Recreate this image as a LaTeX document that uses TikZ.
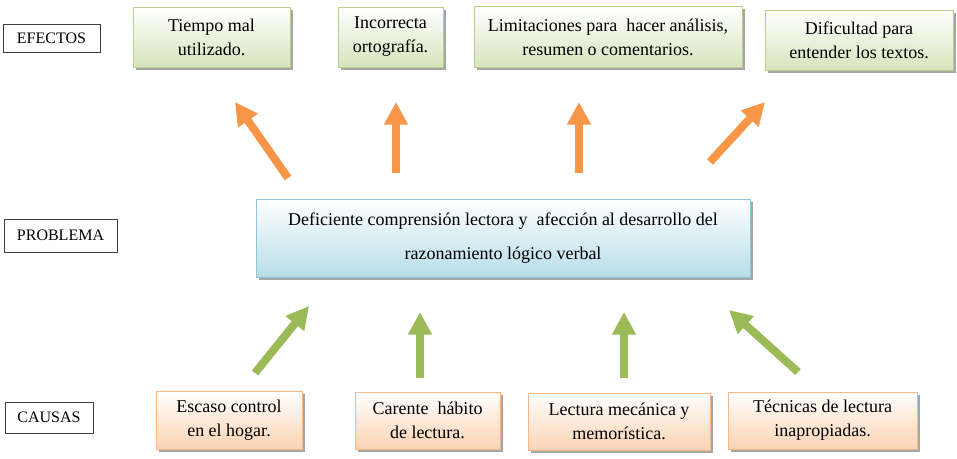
\documentclass[tikz,border=0pt]{standalone}
\usepackage{fontspec}
\setmainfont{Liberation Serif}
\usetikzlibrary{arrows.meta,shadows}

\definecolor{naranja}{HTML}{F79646}
\definecolor{verde}{HTML}{9BBB59}
\definecolor{verdeclaro}{HTML}{D7E4BD}
\definecolor{verdeborde}{HTML}{B9CF8C}
\definecolor{azulclaro}{HTML}{B7DDE8}
\definecolor{azulborde}{HTML}{8CC6D8}
\definecolor{melon}{HTML}{FBD4B4}
\definecolor{melonborde}{HTML}{F8B888}

\begin{document}
\begin{tikzpicture}[
            x=0.75pt, y=-0.75pt,
            nivel/.style={draw=black!75, fill=white, inner sep=0pt, font=\fontsize{12}{14}\selectfont},
            caja/.style={draw, align=center, inner sep=0pt, font=\fontsize{13.5}{18}\selectfont,
                drop shadow={shadow xshift=2pt, shadow yshift=-2pt, fill=black, opacity=0.35}},
            efecto/.style={caja, draw=verdeborde, top color=white, bottom color=verdeclaro},
            causa/.style={caja, draw=melonborde, top color=white, bottom color=melon},
            problema/.style={caja, draw=azulborde, top color=white, bottom color=azulclaro,
                font=\fontsize{13.5}{25}\selectfont},
            flecha/.style={line width=6pt, -{Triangle[length=17pt, width=17pt]}}
            ]
            \useasboundingbox (0,0) rectangle (957,459);

            \node[nivel, minimum width=72.75pt, minimum height=21pt] (ef) at (51.5,38) {EFECTOS};
            \node[nivel, minimum width=84.75pt, minimum height=24.75pt] (pr) at (60.5,235.5) {PROBLEMA};
            \node[nivel, minimum width=66pt, minimum height=23.25pt] (ca) at (49,417.5) {CAUSAS};

            \node[efecto, minimum width=117.75pt, minimum height=45pt] (e1) at (211.5,37) {Tiempo mal\\utilizado.};
            \node[efecto, minimum width=78.75pt, minimum height=45pt] (e2) at (390.5,37) {Incorrecta\\ortografía.};
            \node[efecto, minimum width=201pt, minimum height=45.75pt] (e3) at (608,37) {Limitaciones para\ \ hacer análisis,\\resumen o comentarios.};
            \node[efecto, minimum width=141pt, minimum height=45pt] (e4) at (859,40) {Dificultad para\\entender los textos.};

            \node[problema, minimum width=370.5pt, minimum height=58.5pt] (p) at (503,238) {Deficiente comprensión lectora y\ \ afección al desarrollo del\\razonamiento lógico verbal};

            \node[causa, minimum width=109.5pt, minimum height=43.5pt] (c1) at (229,420) {Escaso control\\en el hogar.};
            \node[causa, minimum width=108.75pt, minimum height=42.75pt] (c2) at (427.5,420.5) {Carente\ \ hábito\\de lectura.};
            \node[causa, minimum width=136.5pt, minimum height=42.75pt] (c3) at (619,421.5) {Lectura mecánica y\\memorística.};
            \node[causa, minimum width=141.75pt, minimum height=42.75pt] (c4) at (822.5,420.5) {Técnicas de lectura\\inapropiadas.};

            % flechas hacia los efectos
            \coordinate (a1) at (288,178); \coordinate (b1) at (235,102);
            \coordinate (a2) at (396,173); \coordinate (b2) at (396,102);
            \coordinate (a3) at (579,173); \coordinate (b3) at (579,102);
            \coordinate (a4) at (710,162); \coordinate (b4) at (765,102);
            \draw[flecha, naranja] (a1)--(b1);
            \draw[flecha, naranja] (a2)--(b2);
            \draw[flecha, naranja] (a3)--(b3);
            \draw[flecha, naranja] (a4)--(b4);

            % flechas desde las causas
            \coordinate (g1) at (255,373); \coordinate (h1) at (309,306);
            \coordinate (g2) at (420,378); \coordinate (h2) at (420,312);
            \coordinate (g3) at (624,378); \coordinate (h3) at (624,312);
            \coordinate (g4) at (798,372); \coordinate (h4) at (729,310);
            \draw[flecha, verde] (g1)--(h1);
            \draw[flecha, verde] (g2)--(h2);
            \draw[flecha, verde] (g3)--(h3);
            \draw[flecha, verde] (g4)--(h4);

            \end{tikzpicture}
\end{document}
